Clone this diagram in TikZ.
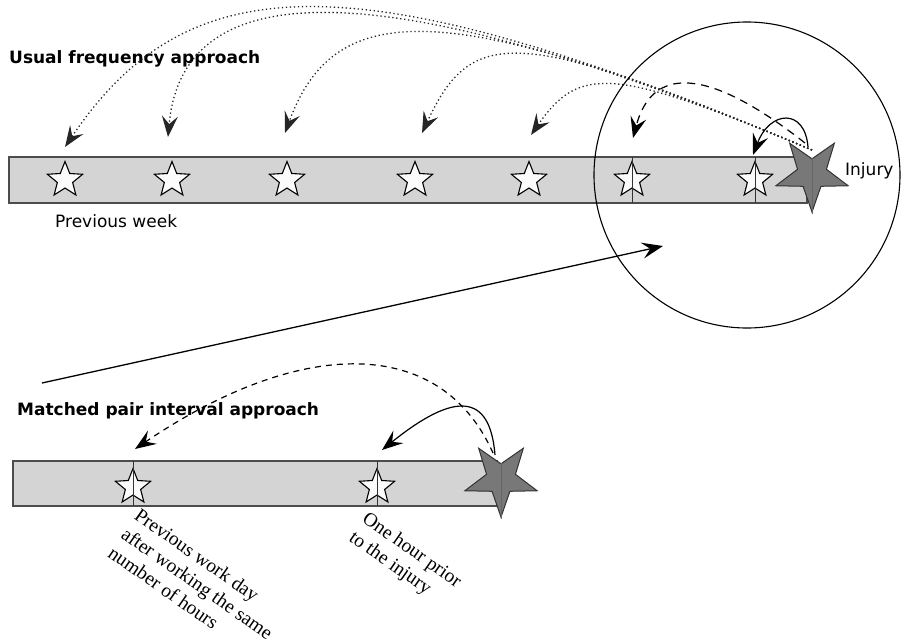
\documentclass[tikz,border=0pt]{standalone}
\usepackage{fontspec}
\setmainfont{DejaVu Sans}
\newfontfamily\labelserif{Liberation Serif}
\usetikzlibrary{calc}
\usetikzlibrary{arrows.meta}
\usetikzlibrary{positioning}
\usetikzlibrary{shapes.geometric}
\definecolor{bar-gray}{gray}{0.83}
\definecolor{edge-gray}{gray}{0.3}
\definecolor{injury-gray}{gray}{0.47}

\begin{document}
\begin{tikzpicture}
  [
    x=1pt, y=-1pt,
    bar/.style = {draw=edge-gray, fill=bar-gray, line width=1.4pt},
    event/.style = {draw, star, star points=5, star point ratio=2.3, fill=white!97!gray, line width=1.1pt, minimum size=37pt, inner sep=0pt},
    injury/.style = {draw=black!80, star, star points=5, star point ratio=2.5, shape border rotate=180, fill=injury-gray, line width=1pt, minimum size=76pt, inner sep=0pt},
    tick/.style = {draw=black!80, line width=1pt},
    head/.style = {-{Stealth[length=21pt, width=16pt, inset=8pt]}},
    freq/.style = {head, line width=1.3pt, dash pattern=on 1.3pt off 2.7pt, black!85},
    match/.style = {head, line width=1.2pt, dash pattern=on 8pt off 6pt},
    prior/.style = {head, line width=1.2pt},
    title/.style = {anchor=base west, inner sep=0pt, font=\fontsize{17}{20}\selectfont\bfseries},
    caption/.style = {anchor=base west, inner sep=0pt, font=\fontsize{17}{20}\selectfont},
    slanted/.style = {anchor=north west, rotate=-35, align=left, inner sep=0pt, font=\labelserif\fontsize{19.5}{23}\selectfont}
  ]
\useasboundingbox (0,0) rectangle (906,643);

% ---------------------------------------------------
% Usual frequency approach
\node[title] (usual) at (9,63) {Usual frequency approach};
\draw[bar] (9,157) rectangle (807,203);
\foreach \name/\x in {w1/65, w2/172, w3/287, w4/415, w5/529, w6/632, w7/755}
  \node[event] (\name) at (\x,180) {};
% Ticks
\draw[tick] ($ (w6) + (0,-23) $) -- ($ (w6) + (0,23) $);
\draw[tick] ($ (w7) + (0,-23) $) -- ($ (w7) + (0,23) $);
% Injury
\node[injury] (inj) at (812,174) {};
\draw[tick, black!60] (inj.north) -- (inj.south);
\node[caption] (injtext) at (845,175) {Injury};
\node[caption] (week) at (55,227) {Previous week};

% Arcs back to every hour of the week
\draw[freq] ($ (inj) + (0,-24) $) .. controls +(-450,-189) and +(125,-186) .. ($ (w1) + (0,-33) $);
\draw[freq] ($ (inj) + (0,-24) $) .. controls +(-426,-179) and +(15,-166) .. ($ (w2) + (-4,-43) $);
\draw[freq] ($ (inj) + (0,-24) $) .. controls +(-364,-153) and +(50,-136) .. ($ (w3) + (-2,-47) $);
\draw[freq] ($ (inj) + (0,-24) $) .. controls +(-295,-124) and +(50,-107) .. ($ (w4) + (7,-47) $);
\draw[freq] ($ (inj) + (0,-24) $) .. controls +(-200,-84) and +(48,-69) .. ($ (w5) + (2,-45) $);
\draw[match] ($ (inj) + (-7,-31) $) .. controls +(-98,-77) and +(19,-72) .. ($ (w6) + (1,-42) $);
\draw[prior] ($ (inj) + (-4,-27) $) .. controls +(-3,-39) and +(17,-45) .. ($ (w7) + (-2,-25) $);

% Zoom
\node[draw, circle, line width=1.1pt, minimum size=306pt, inner sep=0pt] (lens) at (747,175) {};
\coordinate[] (from) at (42,383);
\coordinate[] (into) at ($ (lens) + (-84,71) $);
\path[] (from) edge[head, line width=1.3pt] (into);

% ---------------------------------------------------
% Matched pair interval approach
\node[title] (matched) at (17,415) {Matched pair interval approach};
\draw[bar] (13,461) rectangle (497,506);
\node[event] (b1) at (133,487) {};
\node[event] (b2) at (377,487) {};
\draw[tick] ($ (b1) + (0,-26) $) -- ($ (b1) + (0,19) $);
\draw[tick] ($ (b2) + (0,-26) $) -- ($ (b2) + (0,19) $);
\node[injury] (inj2) at (501,479) {};
\draw[tick, black!60] (inj2.north) -- (inj2.south);

\draw[match, dash pattern=on 6pt off 5pt] ($ (inj2) + (-8,-26) $) .. controls +(-52,-117) and +(167,-113) .. ($ (b1) + (2,-38) $);
\draw[prior] ($ (inj2) + (-6,-24) $) .. controls +(-5,-63) and +(72,-58) .. ($ (b2) + (5,-37) $);

\node[slanted] (sameday) at (141,507) {Previous work day\\after working the same\\number of hours};
\node[slanted] (hourprior) at (369,510) {One hour prior\\to the injury};
% ---------------------------------------------------
\end{tikzpicture}
\end{document}
